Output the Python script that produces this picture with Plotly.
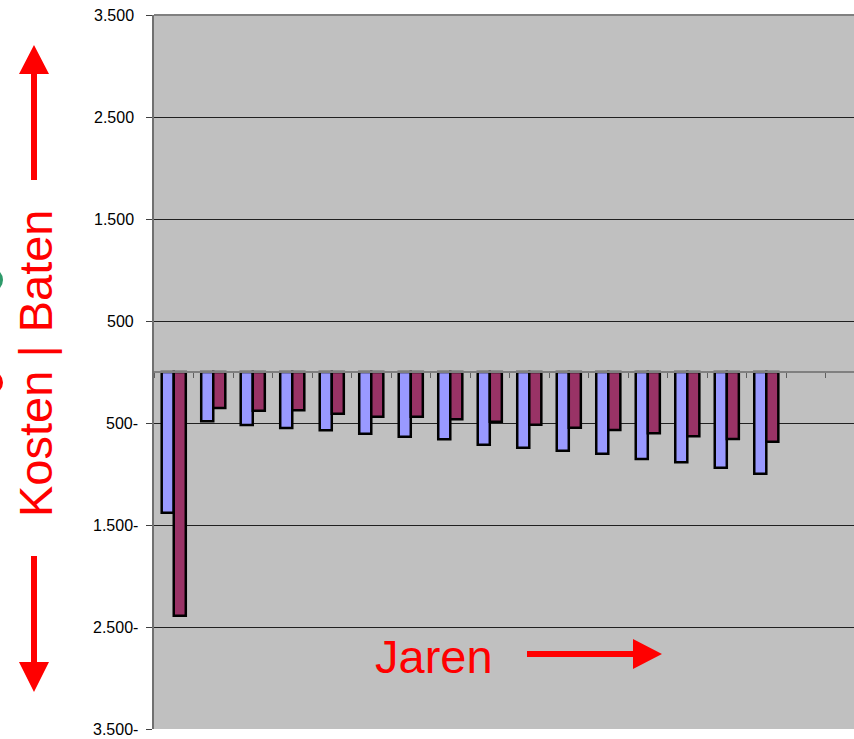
import plotly.graph_objects as go

# Yearly costs/benefits (negative = below the zero line)
years = list(range(1, 17))
kosten = [-1380, -483, -520, -549, -572, -605, -634, -660,
          -714, -742, -771, -801, -853, -886, -938, -997]
baten = [-2390, -353, -380, -376, -409, -438, -438, -464,
         -487, -516, -546, -569, -601, -631, -657, -683]

y_ticks = [3500, 2500, 1500, 500, -500, -1500, -2500, -3500]
y_labels = ["3.500", "2.500", "1.500", "500", "500-", "1.500-", "2.500-", "3.500-"]

W, H = 854, 739
L, R, T, B = 154, 0, 15, 10
PW, PH = W - L - R, H - T - B


def px(x):
    return (x - L) / PW


def py(y):
    return (H - B - y) / PH


fig = go.Figure()
fig.add_trace(go.Bar(x=years, y=kosten, name="Kosten",
                     marker=dict(color="#9999FF", line=dict(color="black", width=2.5))))
fig.add_trace(go.Bar(x=years, y=baten, name="Baten",
                     marker=dict(color="#993366", line=dict(color="black", width=2.5))))

red = "#FF0000"
shapes = []


def arrow(path):
    shapes.append(dict(type="path", xref="paper", yref="paper", path=path,
                       fillcolor=red, line=dict(color=red, width=0), layer="above"))


def poly(points):
    return "M " + " L ".join(f"{px(a):.5f},{py(b):.5f}" for a, b in points) + " Z"


# up arrow
arrow(poly([(31, 180), (37, 180), (37, 74), (49, 74), (34, 45), (19, 74), (31, 74)]))
# down arrow
arrow(poly([(31, 556), (37, 556), (37, 662), (49, 662), (34, 692), (19, 662), (31, 662)]))
# right arrow
arrow(poly([(527, 651), (527, 657), (633, 657), (633, 669), (662, 654), (633, 639), (633, 651)]))

# small markers at the left edge
shapes.append(dict(type="circle", xref="paper", yref="paper",
                   x0=px(-21), x1=px(3), y0=py(292), y1=py(268),
                   fillcolor="#2E9A6A", line=dict(width=0)))
shapes.append(dict(type="circle", xref="paper", yref="paper",
                   x0=px(-20), x1=px(3), y0=py(394), y1=py(371),
                   fillcolor=red, line=dict(width=0)))

# top frame line
shapes.append(dict(type="line", xref="paper", yref="paper", x0=0, x1=1, y0=1, y1=1,
                   line=dict(color="#808080", width=2)))

# y tick labels (Dutch number format, trailing minus for negatives)
annotations = []
for v, t in zip(y_ticks, y_labels):
    annotations.append(dict(
        text=t, xref="paper", yref="y", x=px(140 if v < 0 else 136), y=v,
        xanchor="right", yanchor="middle", showarrow=False,
        font=dict(size=16, color="black", family="Arial, Liberation Sans, sans-serif")))

annotations += [
    dict(text="Kosten | Baten", xref="paper", yref="paper",
         x=px(35), y=py(363), textangle=-90, showarrow=False,
         font=dict(size=47, color=red), xanchor="center", yanchor="middle"),
    dict(text="Jaren", xref="paper", yref="paper",
         x=px(434), y=py(656), showarrow=False,
         font=dict(size=47, color=red), xanchor="center", yanchor="middle"),
]

fig.update_layout(
    shapes=shapes,
    annotations=annotations,
    width=W, height=H, autosize=False,
    margin=dict(l=L, r=R, t=T, b=B, pad=0),
    paper_bgcolor="white", plot_bgcolor="#C0C0C0",
    showlegend=False,
    barmode="group", bargap=0.39, bargroupgap=0,
    font=dict(family="Liberation Sans, Arial, sans-serif", color="black", size=14),
    xaxis=dict(range=[0.5, 18.22], anchor="free", position=0.5,
               showline=True, linecolor="#808080", linewidth=2,
               ticks="outside", ticklen=5, tickcolor="#606060", tickwidth=1,
               tickmode="linear", tick0=1.5, dtick=1,
               showticklabels=False, showgrid=False, zeroline=False),
    yaxis=dict(range=[-3500, 3500], tickvals=y_ticks,
               showline=True, linecolor="#707070", linewidth=2,
               ticks="outside", ticklen=6, tickcolor="#404040",
               showticklabels=False,
               showgrid=True, gridcolor="#202020", gridwidth=1,
               zeroline=False),
)

fig.write_html("out.html")
